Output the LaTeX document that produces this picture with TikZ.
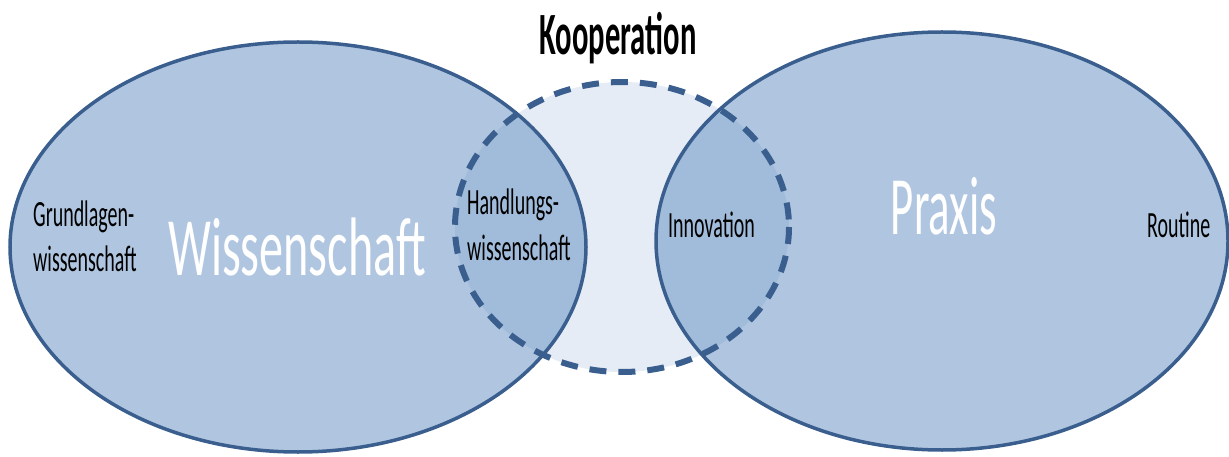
\documentclass[tikz,border=0pt]{standalone}
\usepackage{fontspec}
\newfontfamily\calfont[FakeStretch=0.54]{Carlito}
\newfontfamily\widecalfont[FakeStretch=0.58]{Carlito}
\newfontfamily\coopfont[FakeStretch=0.51]{Carlito}
\definecolor{ovalfill}{HTML}{B0C6E0}
\definecolor{ovalline}{HTML}{3A5F8F}
\definecolor{coopfill}{HTML}{4F81BD}
\tikzset{
  oval/.style={fill=ovalfill},
  ovalrim/.style={draw=ovalline, line width=3.5pt},
  coop/.style={draw=ovalline, line width=6pt, dash pattern=on 17pt off 12pt,
    fill=coopfill, fill opacity=0.15, draw opacity=1},
  bigword/.style={inner sep=0pt, anchor=base, text=white,
    font=\calfont\fontsize{83}{90}\selectfont},
  smallword/.style={inner sep=0pt, anchor=base west, align=left,
    font=\calfont\fontsize{37}{45}\selectfont},
}
\begin{document}
\begin{tikzpicture}[x=1pt,y=-1pt]
  \useasboundingbox (0,0) rectangle (1229,457);
  % the two fields
  \fill[oval] (298,247) ellipse [x radius=288, y radius=205];
  \fill[oval] (942,241) ellipse [x radius=286, y radius=209];
  % cooperation zone in between
  \path[coop] (622,227) ellipse [x radius=167, y radius=145];
  \draw[ovalrim] (298,247) ellipse [x radius=288, y radius=205];
  \draw[ovalrim] (942,241) ellipse [x radius=286, y radius=209];
  % labels (base of a two-line label is its last line)
  \node[inner sep=0pt, anchor=base, font=\coopfont\bfseries\fontsize{60}{66}\selectfont]
    (koop) at (618,55) {Kooperation};
  \node[bigword, font=\widecalfont\fontsize{83}{90}\selectfont] (wiss) at (297,275) {Wissenschaft};
  \node[bigword] (praxis) at (944,235) {Praxis};
  \node[smallword] (grund) at (33,272) {Grundlagen-\\wissenschaft};
  \node[smallword] (handl) at (467,260) {Handlungs-\\wissenschaft};
  \node[smallword] (innov) at (668,238) {Innovation};
  \node[smallword] (routine) at (1147,237) {Routine};
\end{tikzpicture}
\end{document}
